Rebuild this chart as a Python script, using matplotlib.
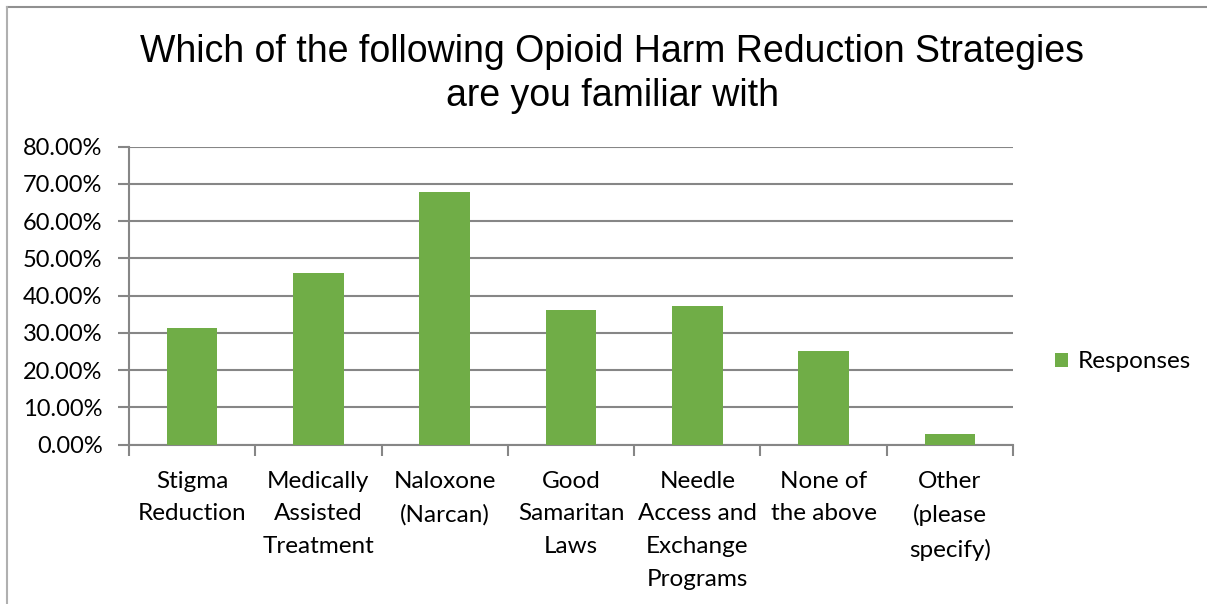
import numpy as np
import matplotlib.pyplot as plt
from matplotlib.lines import Line2D
from matplotlib.ticker import PercentFormatter

categories = ["Stigma\nReduction", "Medically\nAssisted\nTreatment", "Naloxone\n(Narcan)",
              "Good\nSamaritan\nLaws", "Needle\nAccess and\nExchange\nPrograms",
              "None of\nthe above", "Other\n(please\nspecify)"]
responses = [31.2, 46.0, 67.8, 36.2, 37.2, 25.0, 2.9]
yticks = [0, 10, 20, 30, 40, 50, 60, 70, 80]

bar_color = "#70AD47"
grid_color = "#868686"
plt.rcParams['font.family'] = ['Lato', 'DejaVu Sans']

fig = plt.figure(figsize=(12.07, 6.04), dpi=100)
ax = fig.add_axes([129 / 1207, 1 - 444.5 / 604, (1013 - 129) / 1207, (444.5 - 146.7) / 604])

x = np.arange(len(categories))
ax.bar(x, responses, width=0.4, color=bar_color, zorder=3, label="Responses")

ax.set_xlim(-0.5, len(categories) - 0.5)
ax.set_ylim(0, 80)
ax.set_yticks(yticks)
ax.yaxis.set_major_formatter(PercentFormatter(decimals=2))
ax.grid(axis='y', color=grid_color, linewidth=1.5, zorder=0)

# category labels centered, tick marks at category boundaries
ax.set_xticks(x)
ax.set_xticklabels(categories, fontsize=17.5, linespacing=1.68, va='top')
ax.tick_params(axis='x', length=0, pad=19)
ax.set_xticks(np.arange(-0.5, len(categories)), minor=True)
ax.tick_params(axis='x', which='minor', length=8, width=1.5, color=grid_color)
ax.tick_params(axis='y', length=8, width=1.5, color=grid_color, labelsize=17, pad=11)

for side in ['top', 'right']:
    ax.spines[side].set_visible(False)
for side in ['left', 'bottom']:
    ax.spines[side].set_color(grid_color)
    ax.spines[side].set_linewidth(1.5)

fig.text(612 / 1207, 1 - 74 / 604, "Which of the following Opioid Harm Reduction Strategies\nare you familiar with",
         ha='center', va='center', fontsize=27, family=['Liberation Sans'], linespacing=1.3)

fig.legend(loc='center left', bbox_to_anchor=(1033 / 1207, 1 - 362 / 604), frameon=False,
           fontsize=17.5, handlelength=0.55, handleheight=0.55, handletextpad=0.4)

# chart frame (top and left edges visible)
fig.add_artist(Line2D([7 / 1207, 1], [1 - 7 / 604, 1 - 7 / 604], color="#909090", linewidth=1.5))
fig.add_artist(Line2D([7 / 1207, 7 / 1207], [0, 1 - 7 / 604], color="#B0B0B0", linewidth=1.5))

fig.savefig("out.png", dpi=100)
